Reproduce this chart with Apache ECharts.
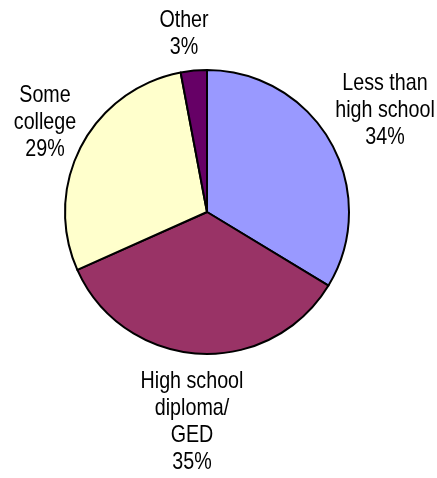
<!DOCTYPE html>
<html>
<head>
<meta charset="utf-8">
<script src="https://cdn.jsdelivr.net/npm/echarts@6/dist/echarts.min.js"></script>
<style>
  html, body { margin: 0; padding: 0; background: #fff; }
  #chart { width: 437px; height: 478px; }
</style>
</head>
<body>
<div id="chart"></div>
<script>
// Education level shares, clockwise from 12 o'clock
const categories = ['Less than\nhigh school', 'High school\ndiploma/\nGED', 'Some\ncollege', 'Other'];
const shares = [34, 35, 29, 3];
const sliceColors = ['#9999FF', '#993366', '#FFFFCC', '#660066'];

// Where each slice's caption sits (centre of its text block)
const labelAnchors = [[385, 110], [192, 422], [45, 122], [184, 34]];

const chart = echarts.init(document.getElementById('chart'), null, { renderer: 'canvas' });

// Captions use a horizontally condensed sans face (narrow look)
const captions = categories.map((name, i) => ({
  type: 'text',
  x: labelAnchors[i][0],
  y: labelAnchors[i][1],
  scaleX: 0.82,
  silent: true,
  style: {
    x: 0,
    y: 0,
    text: name + '\n' + shares[i] + '%',
    font: '24px "Liberation Sans", Arial, sans-serif',
    lineHeight: 27,
    fill: '#000',
    align: 'center',
    verticalAlign: 'middle'
  }
}));

chart.setOption({
  animation: false,
  backgroundColor: '#ffffff',
  graphic: captions,
  series: [{
    type: 'pie',
    center: [207, 212],
    radius: 142,
    startAngle: 90,
    clockwise: true,
    silent: true,
    data: categories.map((name, i) => ({
      name: name,
      value: shares[i],
      itemStyle: { color: sliceColors[i] }
    })),
    itemStyle: { borderColor: '#000', borderWidth: 2 },
    label: { show: false },
    labelLine: { show: false }
  }]
});
</script>
</body>
</html>
